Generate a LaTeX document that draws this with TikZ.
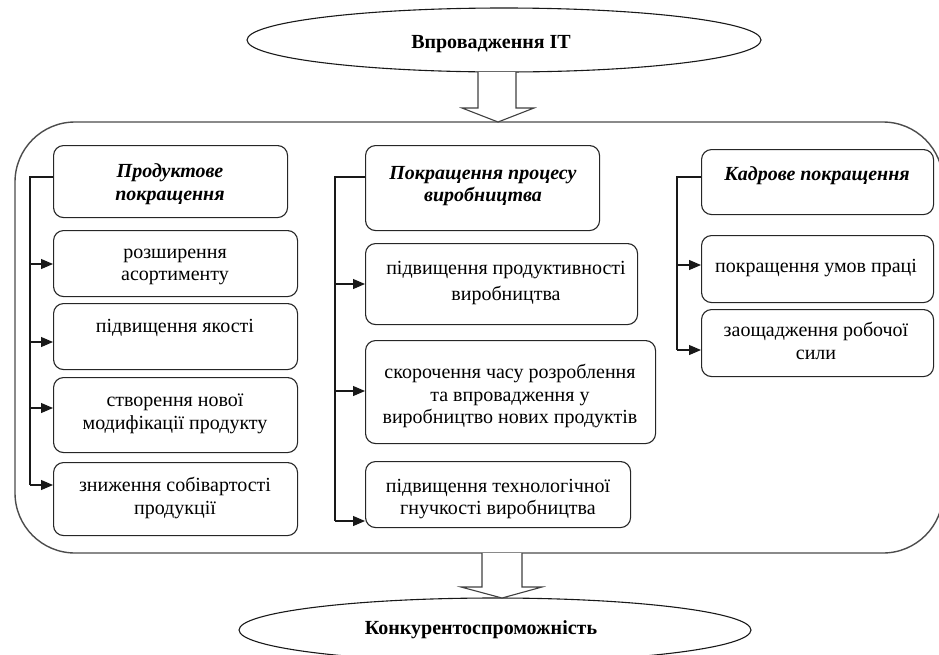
\documentclass[tikz,border=0pt]{standalone}
\usepackage{fontspec}
\setmainfont{Liberation Serif}
\usetikzlibrary{arrows.meta,shapes.geometric}
\begin{document}
\begin{tikzpicture}[x=1pt,y=-1pt,
  box/.style={draw=black!85, line width=1.1pt, rounded corners=10pt, anchor=north west, inner sep=0pt},
  txt/.style={align=center, inner sep=0pt, yshift=-3pt, font=\fontsize{20}{22.5}\selectfont},
  hdr/.style={align=center, inner sep=0pt, yshift=-3pt, font=\fontsize{20}{22.5}\selectfont\bfseries\itshape},
  oval/.style={draw=black!90, line width=1.1pt, ellipse, inner sep=0pt},
  spine/.style={draw=black!90, line width=1.1pt},
  arr/.style={draw=black!90, line width=1.1pt, -{Triangle[length=12pt,width=10pt]}},
  blockarrow/.style={draw=black!75, line width=1.1pt, fill=white, line join=miter}
]
\useasboundingbox (0,0) rectangle (939,654);

% container
\draw[draw=black!70, line width=1.4pt, rounded corners=60pt] (15,122) rectangle (943,553);

% top ellipse and block arrow
\node[oval, minimum width=514pt, minimum height=64pt] (top) at (504,40) {};
\node[txt, font=\fontsize{20}{22.5}\selectfont\bfseries] (toptxt) at (491,41) {Впровадження IT};
\draw[blockarrow] (478,72) -- (478,108) -- (462,108) -- (498,122) -- (534,108) -- (516,108) -- (516,72);

% bottom ellipse and block arrow
\node[oval, minimum width=512pt, minimum height=64pt] (bot) at (495,630) {};
\node[txt, font=\fontsize{20}{22.5}\selectfont\bfseries] (bottxt) at (481,627) {Конкурентоспроможність};
\draw[blockarrow] (482,553) -- (482,587) -- (461,587) -- (502,598) -- (542,587) -- (522,587) -- (522,553);

% left column
\node[box, minimum width=234pt, minimum height=72pt] (h1) at (53,145) {};
\node[hdr] (h1t) at (170,181) {Продуктове\\покращення};
\node[box, minimum width=244pt, minimum height=66pt] (b1) at (53,230) {};
\node[txt] (b1t) at (175,264) {розширення\\асортименту};
\node[box, minimum width=244pt, minimum height=66pt] (b2) at (53,303) {};
\node[txt] (b2t) at (175,325) {підвищення якості};
\node[box, minimum width=244pt, minimum height=75pt] (b3) at (53,377) {};
\node[txt] (b3t) at (175,411) {створення нової\\модифікації продукту};
\node[box, minimum width=244pt, minimum height=73pt] (b4) at (53,462) {};
\node[txt] (b4t) at (175,495) {зниження собівартості\\продукції};

\coordinate (l0) at (30,177);
\coordinate (l1) at (30,264);
\coordinate (l2) at (30,342);
\coordinate (l3) at (30,408);
\coordinate (l4) at (30,485);
\draw[spine] (h1.west |- l0) -- (l0) -- (l4);
\draw[arr] (l1) -- (b1.west |- l1);
\draw[arr] (l2) -- (b2.west |- l2);
\draw[arr] (l3) -- (b3.west |- l3);
\draw[arr] (l4) -- (b4.west |- l4);

% middle column
\node[box, minimum width=234pt, minimum height=85pt] (h2) at (365,145) {};
\node[hdr] (h2t) at (483,183) {Покращення процесу\\виробництва};
\node[box, minimum width=272pt, minimum height=81pt] (b5) at (365,243) {};
\node[txt, font=\fontsize{20}{26}\selectfont] (b5t) at (506,280) {підвищення продуктивності\\виробництва};
\node[box, minimum width=290pt, minimum height=103pt] (b6) at (365,340) {};
\node[txt] (b6t) at (510,393) {скорочення часу розроблення\\та впровадження у\\виробництво нових продуктів};
\node[box, minimum width=265pt, minimum height=66pt] (b7) at (365,461) {};
\node[txt] (b7t) at (498,496) {підвищення технологічної\\гнучкості виробництва};

\coordinate (m0) at (335,177);
\coordinate (m1) at (335,284);
\coordinate (m2) at (335,391);
\coordinate (m3) at (335,521);
\draw[spine] (h2.west |- m0) -- (m0) -- (m3);
\draw[arr] (m1) -- (b5.west |- m1);
\draw[arr] (m2) -- (b6.west |- m2);
\draw[arr] (m3) -- (b7.west |- m3);

% right column
\node[box, minimum width=232pt, minimum height=65pt] (h3) at (701,149) {};
\node[hdr] (h3t) at (817,173) {Кадрове покращення};
\node[box, minimum width=232pt, minimum height=67pt] (b8) at (701,235) {};
\node[txt] (b8t) at (816,265) {покращення умов праці};
\node[box, minimum width=232pt, minimum height=67pt] (b9) at (701,309) {};
\node[txt] (b9t) at (816,338) {заощадження робочої\\сили};

\coordinate (r0) at (677,177);
\coordinate (r1) at (677,265);
\coordinate (r2) at (677,350);
\draw[spine] (h3.west |- r0) -- (r0) -- (r2);
\draw[arr] (r1) -- (b8.west |- r1);
\draw[arr] (r2) -- (b9.west |- r2);
\end{tikzpicture}
\end{document}
